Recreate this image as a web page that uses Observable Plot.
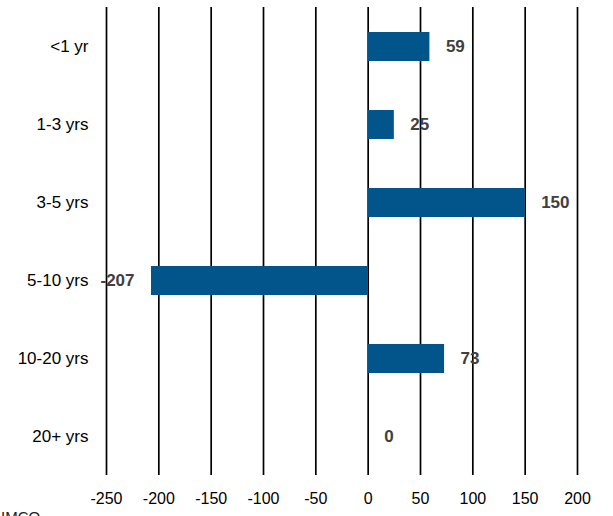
<!DOCTYPE html>
<html>
<head>
<meta charset="utf-8">
<script src="https://cdn.jsdelivr.net/npm/d3@7"></script>
<script src="https://cdn.jsdelivr.net/npm/@observablehq/plot@0.6"></script>
<style>
  html, body { margin: 0; padding: 0; background: #fff; }
  body { position: relative; width: 613px; height: 516px; overflow: hidden; font-family: "Liberation Sans", Arial, sans-serif; }
  #caption { position: absolute; left: 1px; top: 509px; font-size: 15px; line-height: 15px; color: #222; }
</style>
</head>
<body>
<div id="chart"></div>
<div id="caption">IMCO</div>
<script>
const categories = ["<1 yr", "1-3 yrs", "3-5 yrs", "5-10 yrs", "10-20 yrs", "20+ yrs"];
const values = [59, 25, 150, -207, 73, 0];
const xTicks = [-250, -200, -150, -100, -50, 0, 50, 100, 150, 200];

const data = categories.map((c, i) => ({category: c, value: values[i]}));

const chart = Plot.plot({
  width: 613,
  height: 516,
  marginTop: 7,
  marginBottom: 41,
  marginLeft: 106,
  marginRight: 36,
  style: {fontFamily: "'Liberation Sans', Arial, sans-serif", background: "#fff"},
  x: {domain: [-250, 200], ticks: xTicks, tickSize: 0, tickPadding: 17, label: null, tickFormat: d => String(d)},
  y: {domain: categories, paddingInner: 0.63, paddingOuter: 0.315, tickSize: 0, tickPadding: 18, label: null},
  marks: [
    Plot.ruleX(xTicks, {stroke: "#000", strokeWidth: 1.7}),
    Plot.barX(data, {x: "value", y: "category", fill: "#02558a"}),
    Plot.text(data.filter(d => d.value >= 0), {x: "value", y: "category", text: d => String(d.value), textAnchor: "start", dx: 16, fontWeight: "bold", fontSize: 17, fill: "#404040"}),
    Plot.text(data.filter(d => d.value < 0), {x: "value", y: "category", text: d => String(d.value), textAnchor: "end", dx: -17, fontWeight: "bold", fontSize: 17, fill: "#404040"}),
    Plot.axisX({ticks: xTicks, tickSize: 0, tickPadding: 17, fontSize: 16, fill: "#000", tickFormat: d => String(d), label: null}),
    Plot.axisY({tickSize: 0, tickPadding: 18, fontSize: 17, fill: "#000", label: null})
  ]
});
document.getElementById("chart").appendChild(chart);
</script>
</body>
</html>
